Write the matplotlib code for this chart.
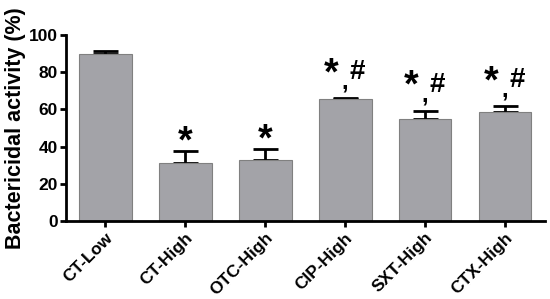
import numpy as np
import matplotlib.pyplot as plt

groups = ['CT-Low', 'CT-High', 'OTC-High', 'CIP-High', 'SXT-High', 'CTX-High']
activity = [89.6, 31.2, 32.8, 65.4, 54.7, 58.6]
errors = [1.8, 6.4, 5.9, 0.6, 4.4, 3.0]
marks = ['', '*', '*', '*,#', '*,#', '*,#']

plt.rcParams['font.family'] = ['Liberation Sans', 'DejaVu Sans']
plt.rcParams['font.weight'] = 'bold'

fig = plt.figure(figsize=(5.5, 2.99), dpi=100)
ax = fig.add_axes([0.12, 0.261, 0.871, 0.622])

x = np.arange(len(groups))
ax.bar(x, activity, width=0.66, color='#a3a3a8', edgecolor='#808080', linewidth=0.8, zorder=2)
ax.errorbar(x, activity, yerr=[np.zeros(len(errors)), errors], fmt='none',
            ecolor='black', elinewidth=2, capsize=9, capthick=2, zorder=1)

for xi, val, err, m in zip(x, activity, errors, marks):
    if not m:
        continue
    top = val + err
    if m == '*':
        ax.text(xi, top - 1, '*', ha='center', va='baseline', fontsize=27, fontweight='bold')
    else:
        ax.text(xi - 0.175, top + 7.6, '*', ha='center', va='baseline', fontsize=27, fontweight='bold')
        ax.text(xi, top + 5.3, ',', ha='center', va='baseline', fontsize=17, fontweight='bold')
        ax.text(xi + 0.15, top + 10.5, '#', ha='center', va='baseline', fontsize=20, fontweight='bold')

ax.set_xlim(-0.49, 5.5)
ax.set_ylim(0, 100)
ax.set_yticks([0, 20, 40, 60, 80, 100])
ax.set_xticks(x)
ax.set_xticklabels(groups, rotation=45, ha='right', rotation_mode='anchor', fontsize=12.5)
ax.tick_params(axis='y', labelsize=12.5, width=2, length=4, pad=2)
ax.tick_params(axis='x', width=2, length=4, pad=2.5)
ax.set_ylabel('Bactericidal activity (%)', fontsize=15.5, fontweight='bold', labelpad=2)

ax.spines['top'].set_visible(False)
ax.spines['right'].set_visible(False)
ax.spines['left'].set_linewidth(2)
ax.spines['bottom'].set_linewidth(2)

fig.savefig('out.png', dpi=100)
